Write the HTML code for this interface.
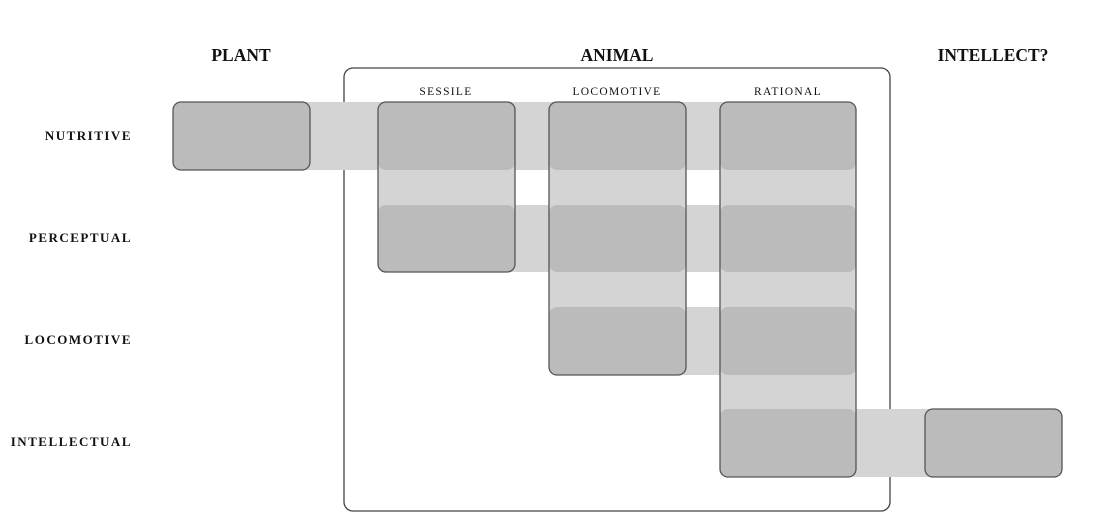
<!DOCTYPE html>
<html><head><meta charset="utf-8"><style>
html,body{margin:0;padding:0;background:#fff;}
svg{display:block;}
text{font-family:"Liberation Serif",serif;fill:#111;}
</style></head><body>
<svg width="1105" height="526" viewBox="0 0 1105 526" xmlns="http://www.w3.org/2000/svg">
<rect x="344" y="68" width="546" height="443" rx="9" fill="none" stroke="#444" stroke-width="1.3"/>
<g fill="#d4d4d4">
<rect x="173" y="102" width="683" height="68" rx="8"/>
<rect x="378" y="205" width="478" height="67" rx="8"/>
<rect x="549" y="307" width="307" height="68" rx="8"/>
<rect x="720" y="409" width="342" height="68" rx="8"/>
<rect x="378" y="102" width="137" height="170" rx="8"/>
<rect x="549" y="102" width="137" height="273" rx="8"/>
<rect x="720" y="102" width="136" height="375" rx="8"/>
</g>
<g fill="#bbbbbb">
<rect x="173" y="102" width="137" height="68" rx="8"/>
<rect x="925" y="409" width="137" height="68" rx="8"/>
<rect x="378" y="102" width="137" height="68" rx="8"/>
<rect x="378" y="205" width="137" height="67" rx="8"/>
<rect x="549" y="102" width="137" height="68" rx="8"/>
<rect x="549" y="205" width="137" height="67" rx="8"/>
<rect x="549" y="307" width="137" height="68" rx="8"/>
<rect x="720" y="102" width="136" height="68" rx="8"/>
<rect x="720" y="205" width="136" height="67" rx="8"/>
<rect x="720" y="307" width="136" height="68" rx="8"/>
<rect x="720" y="409" width="136" height="68" rx="8"/>
</g>
<g fill="none" stroke="#555" stroke-width="1.3">
<rect x="173" y="102" width="137" height="68" rx="8"/>
<rect x="925" y="409" width="137" height="68" rx="8"/>
<rect x="378" y="102" width="137" height="170" rx="8"/>
<rect x="549" y="102" width="137" height="273" rx="8"/>
<rect x="720" y="102" width="136" height="375" rx="8"/>
</g>
<g font-size="17.5" font-weight="bold" text-anchor="middle">
<text x="241" y="61">PLANT</text>
<text x="617" y="61">ANIMAL</text>
<text x="993" y="61">INTELLECT?</text>
</g>
<g font-size="11.5" text-anchor="middle" letter-spacing="1.3" style="fill:#333">
<text x="446" y="95">SESSILE</text>
<text x="617" y="95">LOCOMOTIVE</text>
<text x="788" y="95">RATIONAL</text>
</g>
<g font-size="13" font-weight="bold" text-anchor="end" letter-spacing="1.5">
<text x="132" y="140">NUTRITIVE</text>
<text x="132" y="242">PERCEPTUAL</text>
<text x="132" y="344">LOCOMOTIVE</text>
<text x="132" y="446">INTELLECTUAL</text>
</g>
</svg>
</body></html>
